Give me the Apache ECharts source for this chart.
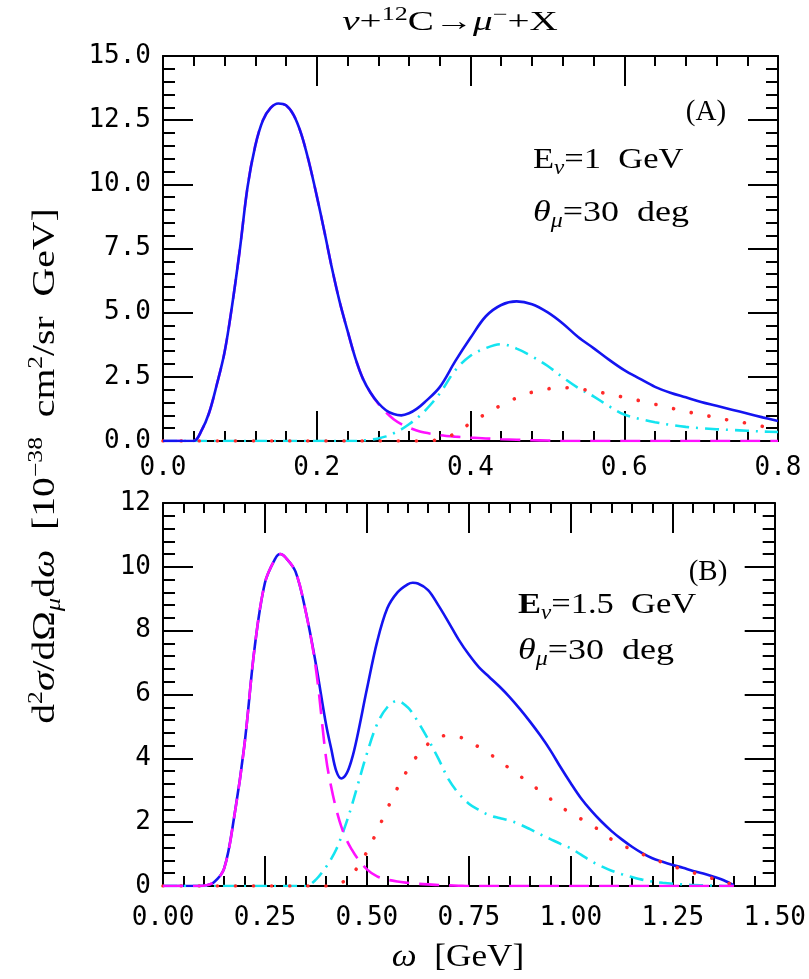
<!DOCTYPE html>
<html><head><meta charset="utf-8">
<script src="https://cdn.jsdelivr.net/npm/echarts/dist/echarts.min.js"></script>
<style>html,body{margin:0;padding:0;background:#fff}#c{width:809px;height:979px}</style>
</head><body><div id="c"></div>
<script>
// ---------- Panel A data (E_nu = 1 GeV) ----------
const xTop = [0,0.02,0.04,0.05,0.06,0.07,0.08,0.09,0.10,0.11,0.12,0.13,0.14,0.15,0.16,0.17,0.18,0.19,0.20,0.21,0.22,0.23,0.24,0.25,0.26,0.27,0.28,0.29,0.30,0.31,0.32,0.33,0.34,0.36,0.38,0.40,0.42,0.44,0.46,0.48,0.50,0.52,0.54,0.56,0.58,0.60,0.62,0.64,0.66,0.68,0.70,0.72,0.74,0.76,0.78,0.80];
const totalTop = [0,0,0.0,0.4,1.1,2.2,3.45,5.3,7.47,9.9,11.5,12.5,12.98,13.15,13.08,12.7,11.95,10.85,9.55,8.15,6.7,5.4,4.3,3.25,2.43,1.88,1.48,1.2,1.05,1.0,1.08,1.25,1.5,2.1,3.1,4.02,4.86,5.3,5.44,5.33,5.02,4.58,4.05,3.62,3.17,2.76,2.43,2.11,1.88,1.70,1.52,1.37,1.22,1.07,0.92,0.78];
const qeTop = [0,0,0.0,0.4,1.1,2.2,3.45,5.3,7.47,9.9,11.5,12.5,12.98,13.15,13.08,12.7,11.95,10.85,9.55,8.15,6.7,5.4,4.3,3.25,2.43,1.88,1.45,1.12,0.85,0.66,0.52,0.41,0.33,0.23,0.17,0.13,0.10,0.07,0.05,0.03,0.02,0,0,0,0,0,0,0,0,0,0,0,0,0,0,0];
const deltaTop = [0,0,0,0,0,0,0,0,0,0,0,0,0,0,0,0,0,0,0,0,0,0,0,0,0.02,0.05,0.1,0.18,0.3,0.45,0.65,0.88,1.15,1.85,2.75,3.32,3.62,3.77,3.6,3.3,2.93,2.48,2.07,1.74,1.36,1.03,0.86,0.73,0.63,0.55,0.50,0.46,0.43,0.40,0.37,0.35];
const otherTop = [0,0,0,0,0,0,0,0,0,0,0,0,0,0,0,0,0,0,0,0,0,0,0,0,0,0,0,0,0,0,0,0,0,0.07,0.29,0.7,1.06,1.4,1.68,1.9,2.03,2.08,2.03,1.94,1.83,1.7,1.57,1.43,1.29,1.15,1.03,0.91,0.79,0.69,0.57,0.47];

// ---------- Panel B data (E_nu = 1.5 GeV) ----------
const xBot = [0,0.025,0.05,0.075,0.1,0.125,0.15,0.175,0.2,0.225,0.25,0.275,0.2875,0.3,0.325,0.35,0.375,0.4,0.4125,0.425,0.4375,0.45,0.4625,0.475,0.5,0.525,0.55,0.575,0.6,0.6125,0.625,0.65,0.675,0.7,0.725,0.75,0.775,0.8,0.825,0.85,0.875,0.9,0.925,0.95,0.975,1.0,1.025,1.05,1.075,1.1,1.125,1.15,1.175,1.2,1.225,1.25,1.275,1.3,1.325,1.35,1.375,1.4];
const totalBot = [0,0,0,0,0.01,0.12,0.55,2.2,4.45,7.5,9.5,10.25,10.4,10.3,9.85,8.6,6.95,5.05,4.3,3.6,3.37,3.52,3.95,4.6,6.17,7.65,8.7,9.2,9.45,9.5,9.48,9.27,8.8,8.27,7.72,7.25,6.85,6.55,6.25,5.92,5.55,5.15,4.72,4.25,3.72,3.22,2.75,2.36,2.02,1.72,1.46,1.23,1.03,0.87,0.76,0.66,0.57,0.47,0.39,0.29,0.18,0.02];
const qeBot = [0,0,0,0,0.01,0.12,0.55,2.2,4.45,7.5,9.5,10.25,10.4,10.3,9.85,8.6,6.8,4.0,3.1,2.4,1.85,1.45,1.15,0.9,0.52,0.3,0.2,0.14,0.1,0.085,0.07,0.05,0.03,0.02,0.01,0,0,0,0,0,0,0,0,0,0,0,0,0,0,0,0,0,0,0,0,0,0,0,0,0,0,0];
const deltaBot = [0,0,0,0,0,0,0,0,0,0,0,0,0,0,0,0,0.2,0.6,0.85,1.15,1.55,2.0,2.5,3.05,4.15,5.07,5.6,5.8,5.6,5.4,5.15,4.6,4.0,3.35,2.9,2.58,2.38,2.22,2.13,2.05,1.93,1.78,1.62,1.47,1.32,1.18,0.98,0.78,0.62,0.48,0.37,0.28,0.2,0.14,0.1,0.07,0.05,0.03,0.02,0.01,0,0];
const otherBot = [0,0,0,0,0,0,0,0,0,0,0,0,0,0,0,0,0,0,0,0.03,0.1,0.2,0.35,0.55,1.07,1.72,2.42,3.07,3.65,3.9,4.1,4.45,4.66,4.72,4.68,4.53,4.35,4.15,3.92,3.68,3.45,3.2,2.98,2.73,2.49,2.28,2.1,1.92,1.7,1.46,1.28,1.15,1.0,0.86,0.74,0.62,0.52,0.42,0.32,0.23,0.13,0.03];

// ---------- tick labels ----------
const topXLabels = ['0.0','0.2','0.4','0.6','0.8'];
const topYLabels = ['0.0','2.5','5.0','7.5','10.0','12.5','15.0'];
const botXLabels = ['0.00','0.25','0.50','0.75','1.00','1.25','1.50'];
const botYLabels = ['0','2','4','6','8','10','12'];

const pairs = (xs, ys) => xs.map((x, i) => [x, ys[i]]);
const TICKFONT = {fontFamily:'DejaVu Sans Mono', fontSize:26, color:'#000'};
const BLACK = '#000';

function axisCommon(min, max, interval, minorLen, labels, showLabel, margin) {
  return {
    type:'value', min:min, max:max, interval:interval,
    axisLine:{show:true, onZero:false, lineStyle:{color:BLACK, width:2}},
    axisTick:{show:true, inside:true, length:30, lineStyle:{color:BLACK, width:2}},
    minorTick:{show:true, splitNumber:5, length:minorLen, lineStyle:{color:BLACK, width:2}},
    splitLine:{show:false}, minorSplitLine:{show:false},
    axisLabel:{show:showLabel, margin:margin, ...TICKFONT,
      formatter:function(v){ const i=Math.round((v-min)/interval); return labels[i]!==undefined?labels[i]:''; }}
  };
}

const xAxes = [
  Object.assign(axisCommon(0,0.8,0.2,10,topXLabels,true,14), {gridIndex:0, position:'bottom'}),
  Object.assign(axisCommon(0,0.8,0.2,10,topXLabels,false,14), {gridIndex:0, position:'top'}),
  Object.assign(axisCommon(0,1.5,0.25,10,botXLabels,true,19), {gridIndex:1, position:'bottom'}),
  Object.assign(axisCommon(0,1.5,0.25,10,botXLabels,false,19), {gridIndex:1, position:'top'})
];
const yAxes = [
  Object.assign(axisCommon(0,15,2.5,12,topYLabels,true,12), {gridIndex:0, position:'left'}),
  Object.assign(axisCommon(0,15,2.5,12,topYLabels,false,12), {gridIndex:0, position:'right'}),
  Object.assign(axisCommon(0,12,2,12,botYLabels,true,12), {gridIndex:1, position:'left'}),
  Object.assign(axisCommon(0,12,2,12,botYLabels,false,12), {gridIndex:1, position:'right'})
];

const STY = {
  total:{color:'#1414f0', width:2.6, type:'solid'},
  qe:{color:'#ff10ff', width:2.6, type:[20,10]},
  delta:{color:'#14e4f0', width:2.6, type:[14,7,2,7]},
  other:{color:'#ff2a2a', width:3.6, type:[0.1,18], cap:'round'}
};
function line(name, data, xi, yi, st) {
  return {name:name, type:'line', xAxisIndex:xi, yAxisIndex:yi, data:data,
    showSymbol:false, smooth:0.35, silent:true, animation:false,
    lineStyle:Object.assign({}, st)};
}

const series = [
  line('QE A', pairs(xTop, qeTop), 0, 0, STY.qe),
  line('Delta A', pairs(xTop, deltaTop), 0, 0, STY.delta),
  line('Other A', pairs(xTop, otherTop), 0, 0, STY.other),
  line('Total A', pairs(xTop, totalTop), 0, 0, STY.total),
  line('Total B', pairs(xBot, totalBot), 2, 2, STY.total),
  line('Delta B', pairs(xBot, deltaBot), 2, 2, STY.delta),
  line('Other B', pairs(xBot, otherBot), 2, 2, STY.other),
  line('QE B', pairs(xBot, qeBot), 2, 2, STY.qe)
];

const SERIF = 'Liberation Serif';
function rich(size) {
  return {
    a:{fontFamily:SERIF, fontSize:size, fill:'#000'},
    ab:{fontFamily:SERIF, fontSize:size, fontWeight:'bold', fill:'#000'},
    ai:{fontFamily:SERIF, fontSize:size, fontStyle:'italic', fill:'#000'},
    sb:{fontFamily:SERIF, fontSize:Math.round(size*0.68), fontStyle:'italic', fill:'#000', padding:[Math.round(size*0.55),0,0,0]},
    sp:{fontFamily:SERIF, fontSize:Math.round(size*0.65), fill:'#000', padding:[0,0,Math.round(size*0.6),0]}
  };
}
function txt(x, y, text, size, align, sx, rot) {
  return {type:'text', x:x, y:y, scaleX:sx||1, rotation:rot||0, silent:true,
    style:{text:text, rich:rich(size), align:align||'left', verticalAlign:'middle', fontFamily:SERIF, fontSize:size, fill:'#000'}};
}

const graphics = [
  txt(450, 23, '{ai|ν}{a|+}{sp|12}{a|C→}{ai|μ}{sp|−}{a|+X}', 27, 'center', 1.45),
  txt(706, 112, '{a|(A)}', 29, 'center', 1.0),
  txt(533, 160, '{a|E}{sb|ν}{a|=1  GeV}', 30, 'left', 1.15),
  txt(533, 213, '{ai|θ}{sb|μ}{a|=30  deg}', 30, 'left', 1.2),
  txt(708, 572, '{a|(B)}', 29, 'center', 1.0),
  txt(518, 605, '{ab|E}{sb|ν}{a|=1.5  GeV}', 30, 'left', 1.15),
  txt(518, 651, '{ai|θ}{sb|μ}{a|=30  deg}', 30, 'left', 1.2),
  txt(458, 958, '{ai|ω}{a|  [GeV]}', 32, 'center', 1.1),
  txt(46, 466, '{a|d}{sp|2}{ai|σ}{a|/dΩ}{sb|μ}{a|d}{ai|ω}{a|  [10}{sp|−38}{a|  cm}{sp|2}{a|/sr  GeV]}', 31, 'center', 1.28, Math.PI/2)
];

const chart = echarts.init(document.getElementById('c'), null, {renderer:'canvas'});
chart.setOption({
  backgroundColor:'#fff',
  animation:false,
  grid:[
    {left:163, top:56, width:615, height:385, containLabel:false},
    {left:163, top:503, width:615, height:383, containLabel:false}
  ],
  xAxis:xAxes,
  yAxis:yAxes,
  series:series,
  graphic:graphics
});
</script></body></html>
